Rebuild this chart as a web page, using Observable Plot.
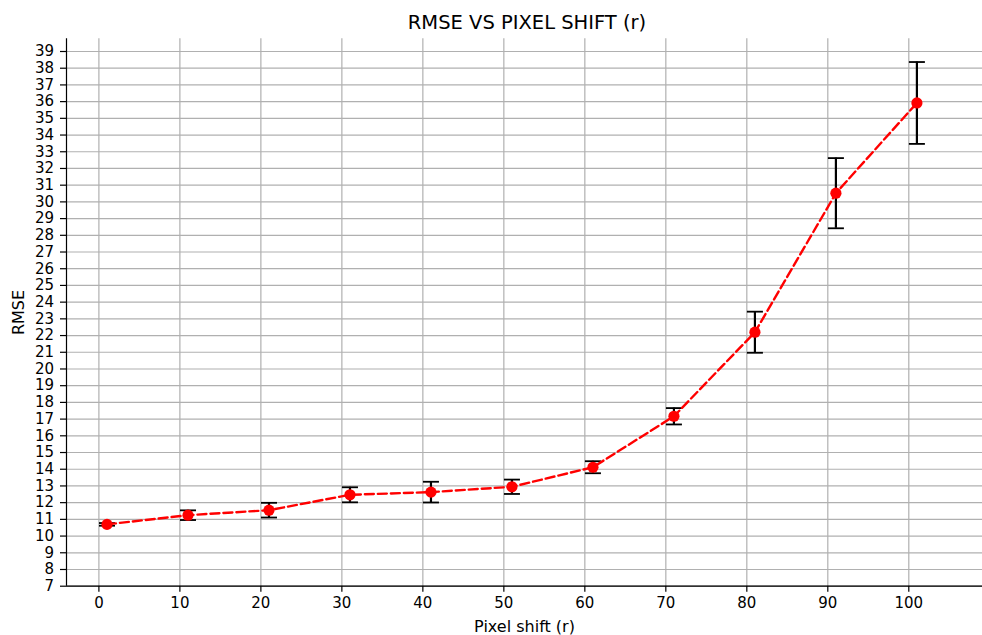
<!DOCTYPE html>
<html>
<head>
<meta charset="utf-8">
<script src="https://cdn.jsdelivr.net/npm/d3@7"></script>
<script src="https://cdn.jsdelivr.net/npm/@observablehq/plot@0.6"></script>
<style>
  html, body { margin: 0; padding: 0; background: white; }
  #title { height: 36px; box-sizing: border-box; width: 982px; padding-left: 72px; padding-top: 12.5px;
    font-family: "DejaVu Sans", sans-serif; font-size: 19.5px; line-height: 20px; text-align: center; color: black; white-space: nowrap; }
  #chart svg { display: block; }
</style>
</head>
<body>
<div id="title">RMSE VS PIXEL SHIFT (r)</div>
<div id="chart"></div>
<script>
const pixelShift = [1, 11, 21, 31, 41, 51, 61, 71, 81, 91, 101];
const rmse       = [10.70, 11.25, 11.55, 12.47, 12.63, 12.95, 14.12, 17.17, 22.20, 30.52, 35.92];
const rmseErr    = [0.08, 0.29, 0.44, 0.45, 0.62, 0.43, 0.36, 0.49, 1.23, 2.10, 2.45];
const xTicks = [0, 10, 20, 30, 40, 50, 60, 70, 80, 90, 100];
const yTicks = [7, 8, 9, 10, 11, 12, 13, 14, 15, 16, 17, 18, 19, 20, 21, 22, 23, 24, 25, 26, 27, 28, 29, 30, 31, 32, 33, 34, 35, 36, 37, 38, 39];
const xDomain = [-4, 109.1];
const yDomain = [7, 39.76];

const data = pixelShift.map((x, i) => ({x, y: rmse[i], lo: rmse[i] - rmseErr[i], hi: rmse[i] + rmseErr[i]}));

const capSymbol = { draw(context) { context.moveTo(-8, 0); context.lineTo(8, 0); } };

const chart = Plot.plot({
  width: 982,
  height: 599,
  marginLeft: 66,
  marginRight: 0,
  marginTop: 2.3,
  marginBottom: 49.3,
  style: { fontFamily: "DejaVu Sans, sans-serif", fontSize: "15px", color: "black", background: "white" },
  x: { domain: xDomain },
  y: { domain: yDomain },
  marks: [
    Plot.gridX({ ticks: xTicks, stroke: "#b0b0b0", strokeOpacity: 1, strokeWidth: 1.2 }),
    Plot.gridY({ ticks: yTicks, stroke: "#b0b0b0", strokeOpacity: 1, strokeWidth: 1.2 }),
    Plot.axisX({ ticks: xTicks, tickSize: 6, tickPadding: 5, strokeWidth: 1.2, fontSize: 15, label: null }),
    Plot.axisX({ ticks: [], label: "Pixel shift (r)", labelAnchor: "center", labelArrow: "none", labelOffset: 45.5, fontSize: 16 }),
    Plot.axisY({ ticks: yTicks, tickSize: 6, tickPadding: 6.5, strokeWidth: 1.2, fontSize: 15, label: null }),
    Plot.axisY({ ticks: [], label: "RMSE", labelAnchor: "center", labelArrow: "none", labelOffset: 54, fontSize: 16 }),
    Plot.ruleX([xDomain[0]], { y1: yDomain[0], y2: yDomain[1], stroke: "black", strokeWidth: 1.2 }),
    Plot.ruleY([yDomain[0]], { stroke: "black", strokeWidth: 1.2 }),
    Plot.ruleX(data, { x: "x", y1: "lo", y2: "hi", stroke: "black", strokeWidth: 2.2 }),
    Plot.dot(data, { x: "x", y: "lo", symbol: capSymbol, fill: "none", stroke: "black", strokeWidth: 1.8 }),
    Plot.dot(data, { x: "x", y: "hi", symbol: capSymbol, fill: "none", stroke: "black", strokeWidth: 1.8 }),
    Plot.line(data, { x: "x", y: "y", stroke: "red", strokeWidth: 2.4, strokeDasharray: "9,4" }),
    Plot.dot(data, { x: "x", y: "y", r: 5.6, fill: "red", stroke: "none" })
  ]
});
document.getElementById("chart").appendChild(chart);
</script>
</body>
</html>
